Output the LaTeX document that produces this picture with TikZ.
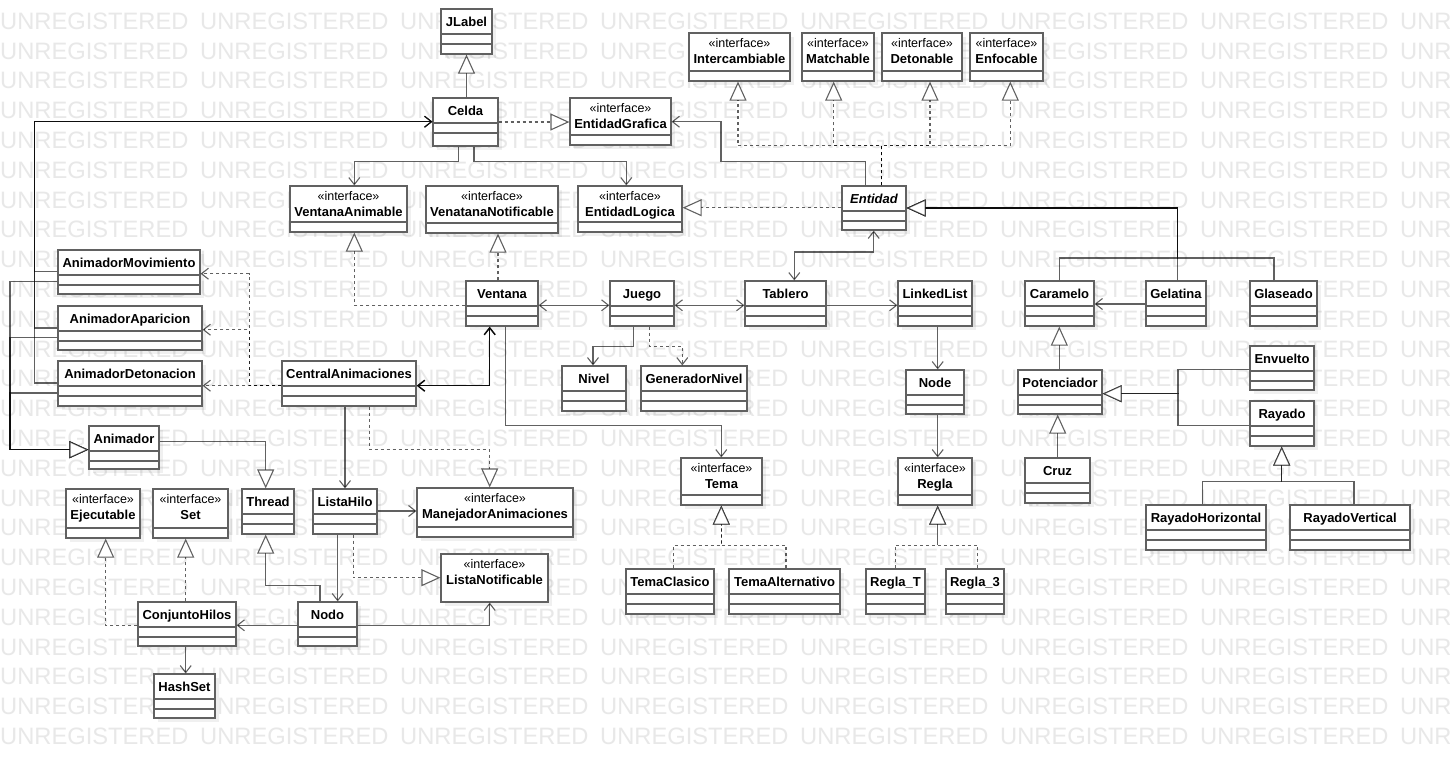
\documentclass[tikz,border=0pt]{standalone}
\usepackage{fontspec}
\setmainfont{Liberation Sans}
\usetikzlibrary{arrows.meta,shadows}

\tikzset{
  wm/.style={anchor=base west, inner sep=0pt, text=black!9, font=\fontsize{23.7}{24}\selectfont},
  umlbox/.style={draw=black!62, line width=1.2pt, fill=white, inner sep=0pt,
    drop shadow={shadow xshift=4pt, shadow yshift=-4pt, fill=black, opacity=0.06}},
  compsep/.style={draw=black!62, line width=1.2pt},
  clsname/.style={anchor=base, inner sep=0pt, font=\bfseries\fontsize{13}{15}\selectfont},
  stereo/.style={anchor=base, inner sep=0pt, font=\fontsize{12.5}{14}\selectfont},
  conn/.style={draw=black, draw opacity=0.62, line width=1.1pt},
  assoc/.style={conn, -{Straight Barb[length=7pt,width=11pt]}},
  biassoc/.style={conn, {Straight Barb[length=7pt,width=11pt]}-{Straight Barb[length=7pt,width=11pt]}},
  heavy/.style={biassoc, draw opacity=0.95, line width=1.5pt},
  depend/.style={conn, dash pattern=on 3pt off 3pt, -{Straight Barb[length=7pt,width=11pt]}},
  gener/.style={conn, -{Triangle[length=19pt,width=17pt,fill=white]}},
  realiz/.style={conn, dash pattern=on 3pt off 3pt, -{Triangle[length=19pt,width=17pt,fill=white]}},
}

% class box: name, x1, y1, x2, y2, title
\newcommand\cls[6]{%
  \node[umlbox, minimum width={#4-#2}, minimum height={#5-#3}] (#1) at ({(#2+#4)/2},{(#3+#5)/2}) {};
  \node[clsname] (#1-name) at ({(#2+#4)/2},{#3+17.3}) {#6};
  \draw[compsep] (#2,{#3+25}) -- (#4,{#3+25}) (#2,{#3+35}) -- (#4,{#3+35});
}
% interface box with one empty compartment
\newcommand\ifc[6]{%
  \node[umlbox, minimum width={#4-#2}, minimum height={#5-#3}] (#1) at ({(#2+#4)/2},{(#3+#5)/2}) {};
  \node[stereo] (#1-st) at ({(#2+#4)/2},{#3+14}) {«interface»};
  \node[clsname] (#1-name) at ({(#2+#4)/2},{#3+30.7}) {#6};
  \draw[compsep] (#2,{#5-10}) -- (#4,{#5-10});
}
% interface box without compartment
\newcommand\ifcplain[6]{%
  \node[umlbox, minimum width={#4-#2}, minimum height={#5-#3}] (#1) at ({(#2+#4)/2},{(#3+#5)/2}) {};
  \node[stereo] (#1-st) at ({(#2+#4)/2},{#3+14}) {«interface»};
  \node[clsname] (#1-name) at ({(#2+#4)/2},{#3+30.7}) {#6};
}

\begin{document}
\begin{tikzpicture}[x=1pt, y=-1pt]
\useasboundingbox (0,0) rectangle (1450,758);
\fill[white] (0,0) rectangle (1450,758);
\clip (0,0) rectangle (1450,758);

% watermark rows
\foreach \r in {0,...,24}
  \foreach \c in {0,...,7}
    \node[wm] (wm-\r-\c) at ({200*\c},{29.3+29.8*\r}) {UNREGISTERED};

% ---------- boxes ----------
\cls{JLabel}{441}{9}{492}{54}{JLabel}
\cls{Celda}{433}{98}{498}{146}{Celda}
\ifc{EntidadGrafica}{570}{98}{671}{145}{EntidadGrafica}
\ifc{Intercambiable}{689}{33}{790}{81}{Intercambiable}
\ifc{Matchable}{802}{33}{874}{81}{Matchable}
\ifc{Detonable}{882}{33}{962}{81}{Detonable}
\ifc{Enfocable}{970}{33}{1043}{81}{Enfocable}
\ifc{VentanaAnimable}{290}{186}{407}{232}{VentanaAnimable}
\ifc{VenatanaNotificable}{426}{186}{558}{233}{VenatanaNotificable}
\ifc{EntidadLogica}{578}{186}{682}{232}{EntidadLogica}
\cls{Entidad}{842}{186}{906}{230}{\itshape Entidad}

\cls{AnimadorMovimiento}{58}{250}{200}{294}{AnimadorMovimiento}
\cls{AnimadorAparicion}{58}{306}{202}{350}{AnimadorAparicion}
\cls{AnimadorDetonacion}{58}{361}{202}{406}{AnimadorDetonacion}
\cls{Animador}{89}{426}{159}{469}{Animador}
\cls{CentralAnimaciones}{282}{361}{416}{406}{CentralAnimaciones}

\cls{Ventana}{466}{281}{538}{326}{Ventana}
\cls{Juego}{610}{281}{674}{326}{Juego}
\cls{Tablero}{745}{281}{826}{326}{Tablero}
\cls{LinkedList}{898}{281}{972}{326}{LinkedList}
\cls{Caramelo}{1025}{281}{1094}{326}{Caramelo}
\cls{Gelatina}{1146}{281}{1206}{326}{Gelatina}
\cls{Glaseado}{1250}{281}{1317}{326}{Glaseado}

\cls{Nivel}{562}{366}{626}{411}{Nivel}
\cls{GeneradorNivel}{641}{366}{747}{411}{GeneradorNivel}
\cls{Node}{906}{370}{964}{414}{Node}
\cls{Potenciador}{1018}{370}{1102}{414}{Potenciador}
\cls{Envuelto}{1250}{346}{1314}{390}{Envuelto}
\cls{Rayado}{1250}{401}{1314}{446}{Rayado}

\ifc{Tema}{681}{458}{762}{505}{Tema}
\ifc{Regla}{898}{458}{972}{505}{Regla}
\cls{Cruz}{1025}{458}{1090}{503}{Cruz}
\cls{RayadoHorizontal}{1146}{505}{1266}{550}{RayadoHorizontal}
\cls{RayadoVertical}{1290}{505}{1410}{550}{RayadoVertical}

\ifc{Ejecutable}{66}{489}{140}{538}{Ejecutable}
\ifc{Set}{153}{489}{228}{538}{Set}
\cls{Thread}{242}{489}{294}{534}{Thread}
\cls{ListaHilo}{313}{489}{377}{534}{ListaHilo}
\ifc{ManejadorAnimaciones}{417}{488}{573}{537}{ManejadorAnimaciones}
\ifcplain{ListaNotificable}{441}{554}{548}{602}{ListaNotificable}

\cls{TemaClasico}{626}{569}{714}{614}{TemaClasico}
\cls{TemaAlternativo}{729}{569}{840}{614}{TemaAlternativo}
\cls{ReglaT}{866}{569}{925}{614}{Regla\_T}
\cls{Regla3}{946}{569}{1004}{614}{Regla\_3}

\cls{ConjuntoHilos}{138}{602}{236}{646}{ConjuntoHilos}
\cls{Nodo}{298}{602}{357}{646}{Nodo}
\cls{HashSet}{154}{674}{215}{718}{HashSet}

% ---------- connectors ----------
% Celda and its interfaces
\draw[gener] (466.5,0 |- Celda.north) -- (466.5,0 |- JLabel.south);
\draw[realiz] (Celda.east) -- (Celda.east -| EntidadGrafica.west);
\draw[assoc] (458.7,0 |- Celda.south) -- (458.7,161.7) -- (354.3,161.7) -- (354.3,0 |- VentanaAnimable.north);
\draw[assoc] (474,0 |- Celda.south) -- (474,161.7) -- (626.3,161.7) -- (626.3,0 |- EntidadLogica.north);

% Entidad
\draw[assoc] (865.3,0 |- Entidad.north) -- (865.3,161.7) -- (721,161.7) -- (721,121.7) -- (EntidadGrafica.east |- 0,121.7);
\draw[realiz] (Entidad.west |- 0,207.7) -- (EntidadLogica.east |- 0,207.7);
\foreach \n/\x in {Intercambiable/738, Matchable/833.7, Detonable/930, Enfocable/1010.3}
  \draw[realiz] (881.7,0 |- Entidad.north) -- (881.7,145.7) -- (\x,145.7) -- (\x,0 |- \n.south);
\draw[gener] (1059.3,0 |- Caramelo.north) -- (1059.3,258) -- (1177.7,258) -- (1177.7,208) -- (Entidad.east |- 0,208);
\draw[gener] (1177.7,0 |- Gelatina.north) -- (1177.7,208) -- (Entidad.east |- 0,208);
\draw[gener] (1274,0 |- Glaseado.north) -- (1274,258) -- (1177.7,258) -- (1177.7,208) -- (Entidad.east |- 0,208);
\draw[biassoc] (794.3,0 |- Tablero.north) -- (794.3,252) -- (873.7,252) -- (873.7,0 |- Entidad.south);

% Ventana, Juego, Tablero row
\draw[realiz] (Ventana.west |- 0,305.3) -- (354.3,305.3) -- (354.3,0 |- VentanaAnimable.south);
\draw[realiz] (498,0 |- Ventana.north) -- (498,0 |- VenatanaNotificable.south);
\draw[biassoc] (Ventana.east |- 0,305.3) -- (Juego.west |- 0,305.3);
\draw[biassoc] (Juego.east |- 0,305.3) -- (Tablero.west |- 0,305.3);
\draw[assoc] (Tablero.east |- 0,305.3) -- (LinkedList.west |- 0,305.3);
\draw[assoc] (937.7,0 |- LinkedList.south) -- (937.7,0 |- Node.north);
\draw[assoc] (937.7,0 |- Node.south) -- (937.7,0 |- Regla.north);
\draw[realiz] (895.3,0 |- ReglaT.north) -- (895.3,545.3) -- (937.7,545.3) -- (937.7,0 |- Regla.south);
\draw[realiz] (977.7,0 |- Regla3.north) -- (977.7,545.3) -- (937.7,545.3) -- (937.7,0 |- Regla.south);
\draw[realiz] (673.7,0 |- TemaClasico.north) -- (673.7,545.3) -- (721.3,545.3) -- (721.3,0 |- Tema.south);
\draw[realiz] (786,0 |- TemaAlternativo.north) -- (786,545.3) -- (721.3,545.3) -- (721.3,0 |- Tema.south);
\draw[assoc] (505.7,0 |- Ventana.south) -- (505.7,425.7) -- (721.3,425.7) -- (721.3,0 |- Tema.north);
\draw[assoc] (633.7,0 |- Juego.south) -- (633.7,346.3) -- (593,346.3) -- (593,0 |- Nivel.north);
\draw[depend] (649.7,0 |- Juego.south) -- (649.7,346.3) -- (682.3,346.3) -- (682.3,0 |- GeneradorNivel.north);
\draw[heavy] (489.7,0 |- Ventana.south) -- (489.7,385.7) -- (CentralAnimaciones.east |- 0,385.7);

% animators
\foreach \n/\y in {AnimadorMovimiento/273.7, AnimadorAparicion/329.7, AnimadorDetonacion/385.7}
  \draw[depend] (CentralAnimaciones.west |- 0,385.7) -- (249.3,385.7) -- (249.3,\y) -- (\n.east |- 0,\y);
\foreach \n/\y in {AnimadorMovimiento/271.3, AnimadorAparicion/328, AnimadorDetonacion/383}
  \draw[assoc] (\n.west |- 0,\y) -- (34.3,\y) -- (34.3,121.7) -- (Celda.west |- 0,121.7);
\foreach \n/\y in {AnimadorMovimiento/281.3, AnimadorAparicion/337.3, AnimadorDetonacion/393}
  \draw[gener] (\n.west |- 0,\y) -- (10,\y) -- (10,449.7) -- (Animador.west |- 0,449.7);
\draw[gener] (Animador.east |- 0,441.3) -- (265.7,441.3) -- (265.7,0 |- Thread.north);

% threads
\draw[realiz] (369.7,0 |- CentralAnimaciones.south) -- (369.7,449.7) -- (489.7,449.7) -- (489.7,0 |- ManejadorAnimaciones.north);
\draw[assoc] (345,0 |- CentralAnimaciones.south) -- (345,0 |- ListaHilo.north);
\draw[assoc] (ListaHilo.east |- 0,511) -- (ManejadorAnimaciones.west |- 0,511);
\draw[assoc] (337.7,0 |- ListaHilo.south) -- (337.7,0 |- Nodo.north);
\draw[realiz] (353.3,0 |- ListaHilo.south) -- (353.3,577.7) -- (ListaNotificable.west |- 0,577.7);
\draw[assoc] (Nodo.east |- 0,625.3) -- (489.7,625.3) -- (489.7,0 |- ListaNotificable.south);
\draw[assoc] (Nodo.west |- 0,625.3) -- (ConjuntoHilos.east |- 0,625.3);
\draw[gener] (320,0 |- Nodo.north) -- (320,585.3) -- (265.7,585.3) -- (265.7,0 |- Thread.south);
\draw[realiz] (ConjuntoHilos.west |- 0,625.3) -- (105.7,625.3) -- (105.7,0 |- Ejecutable.south);
\draw[realiz] (185.7,0 |- ConjuntoHilos.north) -- (185.7,0 |- Set.south);
\draw[assoc] (185.7,0 |- ConjuntoHilos.south) -- (185.7,0 |- HashSet.north);

% candies
\draw[assoc] (Gelatina.west |- 0,304) -- (Caramelo.east |- 0,304);
\draw[gener] (1059.3,0 |- Potenciador.north) -- (1059.3,0 |- Caramelo.south);
\draw[gener] (1057.7,0 |- Cruz.north) -- (1057.7,0 |- Potenciador.south);
\draw[gener] (Envuelto.west |- 0,369.7) -- (1178,369.7) -- (1178,393.7) -- (Potenciador.east |- 0,393.7);
\draw[gener] (Rayado.west |- 0,425.3) -- (1178,425.3) -- (1178,393.7) -- (Potenciador.east |- 0,393.7);
\draw[gener] (1202.3,0 |- RayadoHorizontal.north) -- (1202.3,481.3) -- (1281.7,481.3) -- (1281.7,0 |- Rayado.south);
\draw[gener] (1354,0 |- RayadoVertical.north) -- (1354,481.3) -- (1281.7,481.3) -- (1281.7,0 |- Rayado.south);
\end{tikzpicture}
\end{document}
